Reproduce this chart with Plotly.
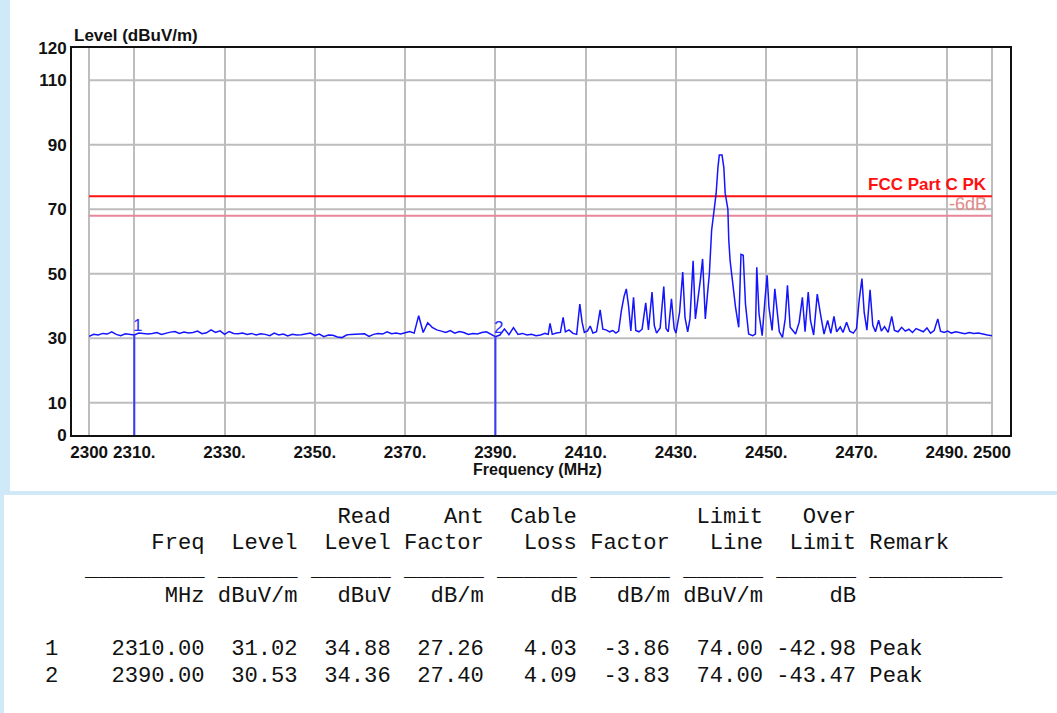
import plotly.graph_objects as go

# ---------------- data ----------------
freq_mhz = [
    2300, 2301, 2302, 2303, 2304, 2305, 2306, 2307, 2308, 2309,
    2310, 2311, 2312, 2313, 2314, 2315, 2316, 2317, 2318, 2319,
    2320, 2321, 2322, 2323, 2324, 2325, 2326, 2327, 2328, 2329,
    2330, 2331, 2332, 2333, 2334, 2335, 2336, 2337, 2338, 2339,
    2340, 2341, 2342, 2343, 2344, 2345, 2346, 2347, 2348, 2349,
    2350, 2351, 2352, 2353, 2354, 2355, 2356, 2357, 2358, 2359,
    2360, 2361, 2362, 2363, 2364, 2365, 2366, 2367, 2368, 2369,
    2370, 2371, 2372, 2373, 2374, 2375, 2376, 2377, 2378, 2379,
    2380, 2381, 2382, 2383, 2384, 2385, 2386, 2387, 2388, 2389,
    2390, 2391, 2392, 2393, 2394, 2395, 2396, 2397, 2398, 2399,
    2400.0, 2401.0, 2401.7, 2402.1, 2402.6, 2403.5, 2404.4, 2405.0, 2405.5, 2406.3,
    2407.2, 2408.0, 2408.7, 2409.2, 2409.7, 2410.4, 2411.0, 2411.6, 2412.4, 2413.2,
    2413.8, 2414.5, 2415.3, 2416.0, 2416.7, 2417.3, 2417.9, 2418.5, 2419.0, 2419.5,
    2420.0, 2420.6, 2421.1, 2421.8, 2422.5, 2423.3, 2423.9, 2424.7, 2425.2, 2425.7,
    2426.5, 2427.3, 2427.8, 2428.3, 2429.0, 2429.6, 2430.0, 2430.8, 2431.5, 2432.0,
    2432.6, 2433.1, 2433.8, 2434.3, 2434.9, 2435.4, 2435.9, 2436.5, 2437.0, 2437.4,
    2437.9, 2438.4, 2438.9, 2439.3, 2439.6, 2440.2, 2440.6, 2440.9, 2441.5, 2441.7,
    2442.0, 2442.6, 2443.2, 2443.9, 2444.4, 2444.9, 2445.4, 2446.1, 2447.0, 2447.6,
    2447.9, 2448.4, 2449.1, 2449.7, 2450.2, 2450.6, 2451.3, 2451.9, 2452.4, 2452.9,
    2453.6, 2454.2, 2454.7, 2455.3, 2456.5, 2457.3, 2458.0, 2458.6, 2459.3, 2459.8,
    2460.5, 2461.3, 2462.0, 2462.8, 2463.6, 2464.3, 2465.0, 2465.6, 2466.4, 2467.0,
    2467.8, 2468.5, 2469.3, 2470.0, 2470.6, 2471.2, 2471.7, 2472.3, 2473.0, 2473.6,
    2474.2, 2474.9, 2475.5, 2476.2, 2477.0, 2477.8, 2478.4, 2479.2, 2480.0, 2480.8,
    2481.6, 2482.4, 2483.2, 2484.0, 2484.8, 2485.6, 2486.4, 2487.2, 2488.0, 2488.6,
    2489.4, 2490.2, 2491.0, 2492.0, 2493.0, 2494.0, 2495.0, 2496.0, 2497.0, 2498.0,
    2499.0, 2500.0,
]
level_dbuv = [
    30.6, 31.2, 31.0, 31.5, 31.3, 32.0, 31.2, 30.8, 31.4, 31.2,
    31.0, 31.6, 31.4, 31.3, 31.5, 31.8, 31.2, 31.6, 31.9, 32.1,
    31.5, 31.9, 31.6, 31.8, 32.2, 31.4, 31.7, 32.6, 31.8, 32.3,
    31.2, 32.1, 31.5, 31.4, 31.6, 31.2, 31.5, 31.0, 31.4, 31.2,
    30.8, 31.6, 31.0, 31.3, 30.7, 31.2, 31.0, 31.1, 31.4, 31.6,
    30.9, 31.3, 30.5, 31.0, 30.9, 30.4, 30.2, 31.0, 31.2, 31.3,
    31.4, 31.4, 30.6, 31.2, 31.5, 31.3, 32.0, 31.4, 31.6, 31.3,
    31.7, 32.1, 31.6, 37.0, 31.8, 34.8, 33.4, 32.6, 32.2, 31.8,
    32.4, 31.6, 32.1, 31.8, 31.2, 31.5, 31.3, 31.8, 32.0, 31.2,
    30.5, 31.0, 32.9, 31.1, 33.3, 31.2, 31.5, 31.0, 31.2, 30.8,
    31.0, 31.5, 31.2, 34.6, 31.2, 31.6, 31.8, 36.5, 32.0, 32.6,
    31.5, 31.2, 40.6, 35.0, 31.8, 32.3, 33.8, 31.6, 32.0, 38.8,
    32.8, 32.6, 32.0, 32.4, 31.6, 32.2, 38.5, 43.0, 45.3, 40.0,
    32.3, 42.7, 32.4, 32.0, 32.8, 41.0, 32.6, 44.3, 34.0, 31.6,
    33.2, 46.0, 33.0, 32.0, 42.2, 33.0, 31.6, 38.0, 50.5, 36.5,
    32.0, 36.0, 54.0, 36.0, 42.0, 48.0, 54.6, 36.0, 44.0, 50.0,
    63.5, 69.7, 74.9, 83.0, 86.8, 86.8, 83.0, 75.0, 70.0, 60.4,
    54.0, 46.8, 39.6, 33.4, 56.0, 55.7, 40.6, 31.3, 30.8, 31.3,
    52.0, 37.6, 30.8, 41.7, 49.5, 39.6, 32.4, 45.3, 37.6, 32.0,
    30.3, 36.0, 46.4, 33.4, 31.3, 35.0, 42.7, 32.0, 44.3, 35.5,
    31.0, 43.7, 37.6, 31.3, 35.5, 31.5, 36.8, 32.0, 33.5, 31.8,
    35.0, 32.2, 31.6, 33.0, 42.0, 48.5, 38.0, 32.5, 45.0, 34.0,
    32.0, 35.6, 32.2, 33.6, 31.8, 36.8, 32.4, 32.0, 33.4, 32.2,
    32.8, 31.8, 33.0, 32.4, 32.0, 33.2, 31.6, 32.4, 36.0, 32.2,
    31.8, 32.2, 31.6, 32.0, 31.8, 31.4, 31.8, 31.5, 31.6, 31.2,
    31.0, 30.8,
]

limit_name = "FCC Part C PK"
limit_level = 74.0
margin_db = -6.0

x_tickvals = [2300, 2310, 2330, 2350, 2370, 2390, 2410, 2430, 2450, 2470, 2490, 2500]
x_ticktext = ["2300", "2310.", "2330.", "2350.", "2370.", "2390.", "2410.",
              "2430.", "2450.", "2470.", "2490.", "2500"]
y_tickvals = [0, 10, 30, 50, 70, 90, 110, 120]
y_ticktext = ["0", "10", "30", "50", "70", "90", "110", "120"]
h_grid = [10, 30, 50, 70, 90, 110]

# marker table
marker_no = [1, 2]
marker_freq = [2310.00, 2390.00]
marker_level = [31.02, 30.53]
read_level = [34.88, 34.36]
ant_factor = [27.26, 27.40]
cable_loss = [4.03, 4.09]
corr_factor = [-3.86, -3.83]
limit_line = [74.00, 74.00]
over_limit = [-42.98, -43.47]
remark = ["Peak", "Peak"]

# ---------------- layout helpers ----------------
W, H = 1057, 713
PL, PR, PT, PB = 72, 1010, 48, 435          # plot-area pixel box
X_RANGE = [2296.2, 2504.0]
Y_RANGE = [0, 120]


def px(x):
    return (x - PL) / (PR - PL)


def py(y):
    return (PB - y) / (PB - PT)


BLUE = "#1414ff"
GRID = "#bdbdbd"
TXT = "#111111"
SANS = "Liberation Sans, Arial, sans-serif"
MONO = "Liberation Mono, Courier New, monospace"

fig = go.Figure()

# limit lines
fig.add_trace(go.Scatter(x=[freq_mhz[0], freq_mhz[-1]], y=[limit_level, limit_level],
                         mode="lines", line=dict(color="#ff1010", width=2),
                         hoverinfo="skip", showlegend=False))
fig.add_trace(go.Scatter(x=[freq_mhz[0], freq_mhz[-1]],
                         y=[limit_level + margin_db, limit_level + margin_db],
                         mode="lines", line=dict(color="#e8879a", width=2),
                         hoverinfo="skip", showlegend=False))

# spectrum
fig.add_trace(go.Scatter(x=freq_mhz, y=level_dbuv, mode="lines",
                         line=dict(color=BLUE, width=1.5),
                         hoverinfo="skip", showlegend=False))

# marker stems
for f, lv in zip(marker_freq, marker_level):
    fig.add_trace(go.Scatter(x=[f, f], y=[0, lv], mode="lines",
                             line=dict(color="#3a3aff", width=2),
                             hoverinfo="skip", showlegend=False))

shapes = []
for v in h_grid:
    shapes.append(dict(type="line", xref="x", yref="y", x0=x_tickvals[0], x1=x_tickvals[-1],
                       y0=v, y1=v, line=dict(color=GRID, width=2), layer="below"))

# light blue page decoration
LB = "#cfe9f8"
shapes.append(dict(type="rect", xref="paper", yref="paper", x0=px(0), x1=px(10),
                   y0=py(0), y1=py(491), fillcolor=LB, line=dict(width=0), layer="above"))
shapes.append(dict(type="rect", xref="paper", yref="paper", x0=px(0), x1=px(W),
                   y0=py(491), y1=py(495), fillcolor=LB, line=dict(width=0), layer="above"))
shapes.append(dict(type="rect", xref="paper", yref="paper", x0=px(0), x1=px(4),
                   y0=py(495), y1=py(H), fillcolor=LB, line=dict(width=0), layer="above"))

annotations = []
annotations.append(dict(text="Level (dBuV/m)", xref="paper", yref="paper", x=px(72), y=py(36),
                        xanchor="left", yanchor="middle", showarrow=False,
                        font=dict(family=SANS, size=17, color=TXT, weight="bold")))
annotations.append(dict(text="Frequency (MHz)", xref="paper", yref="paper", x=px(537), y=py(469),
                        xanchor="center", yanchor="middle", showarrow=False,
                        font=dict(family=SANS, size=16, color=TXT, weight="bold")))
annotations.append(dict(text=limit_name, xref="paper", yref="paper", x=px(989), y=py(184),
                        xanchor="right", yanchor="middle", showarrow=False,
                        font=dict(family=SANS, size=17, color="#ff1010", weight="bold")))
annotations.append(dict(text=f"{margin_db:.0f}dB", xref="paper", yref="paper", x=px(989), y=py(204),
                        xanchor="right", yanchor="middle", showarrow=False,
                        font=dict(family=SANS, size=18, color="#e08a8a")))
for n, f, lv in zip(marker_no, marker_freq, marker_level):
    annotations.append(dict(text=str(n), xref="x", yref="y", x=f, y=lv,
                            xanchor="center", yanchor="bottom", xshift=3, yshift=-2,
                            showarrow=False, font=dict(family=SANS, size=17, color="#2a2aff")))

# table text (fixed width)
hdr1 = "   " + " " * 9 + " " + " " * 6 + " " + f"{'Read':>6}" + " " + f"{'Ant':>6}" + " " + \
       f"{'Cable':>6}" + " " + " " * 6 + " " + f"{'Limit':>6}" + " " + f"{'Over':>6}"
hdr2 = "   " + f"{'Freq':>9}" + " " + f"{'Level':>6}" + " " + f"{'Level':>6}" + " " + \
       f"{'Factor':>6}" + " " + f"{'Loss':>6}" + " " + f"{'Factor':>6}" + " " + \
       f"{'Line':>6}" + " " + f"{'Limit':>6}" + " " + "Remark"
rule = "   " + "_" * 9 + " " + ("_" * 6 + " ") * 7 + "_" * 10
units = "   " + f"{'MHz':>9}" + " " + f"{'dBuV/m':>6}" + " " + f"{'dBuV':>6}" + " " + \
        f"{'dB/m':>6}" + " " + f"{'dB':>6}" + " " + f"{'dB/m':>6}" + " " + \
        f"{'dBuV/m':>6}" + " " + f"{'dB':>6}"
rows = []
for i in range(len(marker_no)):
    rows.append(f"{marker_no[i]:<3}{marker_freq[i]:9.2f} {marker_level[i]:6.2f} {read_level[i]:6.2f} "
                f"{ant_factor[i]:6.2f} {cable_loss[i]:6.2f} {corr_factor[i]:6.2f} "
                f"{limit_line[i]:6.2f} {over_limit[i]:6.2f} {remark[i]}")

table_lines = [(hdr1, 517), (hdr2, 543.5), (rule, 570), (units, 596.5),
               (rows[0], 649.5), (rows[1], 676)]
for txt, yc in table_lines:
    annotations.append(dict(text=txt.replace(" ", "\u00a0"), xref="paper", yref="paper",
                            x=px(43.3), y=py(yc), xanchor="left", yanchor="middle",
                            showarrow=False,
                            font=dict(family=MONO, size=22.17, color=TXT)))

fig.update_layout(
    width=W, height=H,
    margin=dict(l=PL, r=W - PR, t=PT, b=H - PB, pad=0),
    paper_bgcolor="white", plot_bgcolor="white",
    showlegend=False, hovermode=False,
    shapes=shapes, annotations=annotations,
    xaxis=dict(range=X_RANGE, tickmode="array", tickvals=x_tickvals, ticktext=x_ticktext,
               showgrid=True, gridcolor=GRID, gridwidth=2, zeroline=False,
               showline=True, mirror=True, linecolor="#111111", linewidth=2,
               ticks="", ticklabelstandoff=1,
               tickfont=dict(family=SANS, size=17, color=TXT, weight="bold")),
    yaxis=dict(range=Y_RANGE, tickmode="array", tickvals=y_tickvals, ticktext=y_ticktext,
               showgrid=False, zeroline=False,
               showline=True, mirror=True, linecolor="#111111", linewidth=2,
               ticks="", ticklabelstandoff=0,
               tickfont=dict(family=SANS, size=17, color=TXT, weight="bold")),
)

fig.write_html("out.html", config={"displayModeBar": False},
               post_script="document.body.style.margin='0px';document.body.style.overflow='hidden';")
